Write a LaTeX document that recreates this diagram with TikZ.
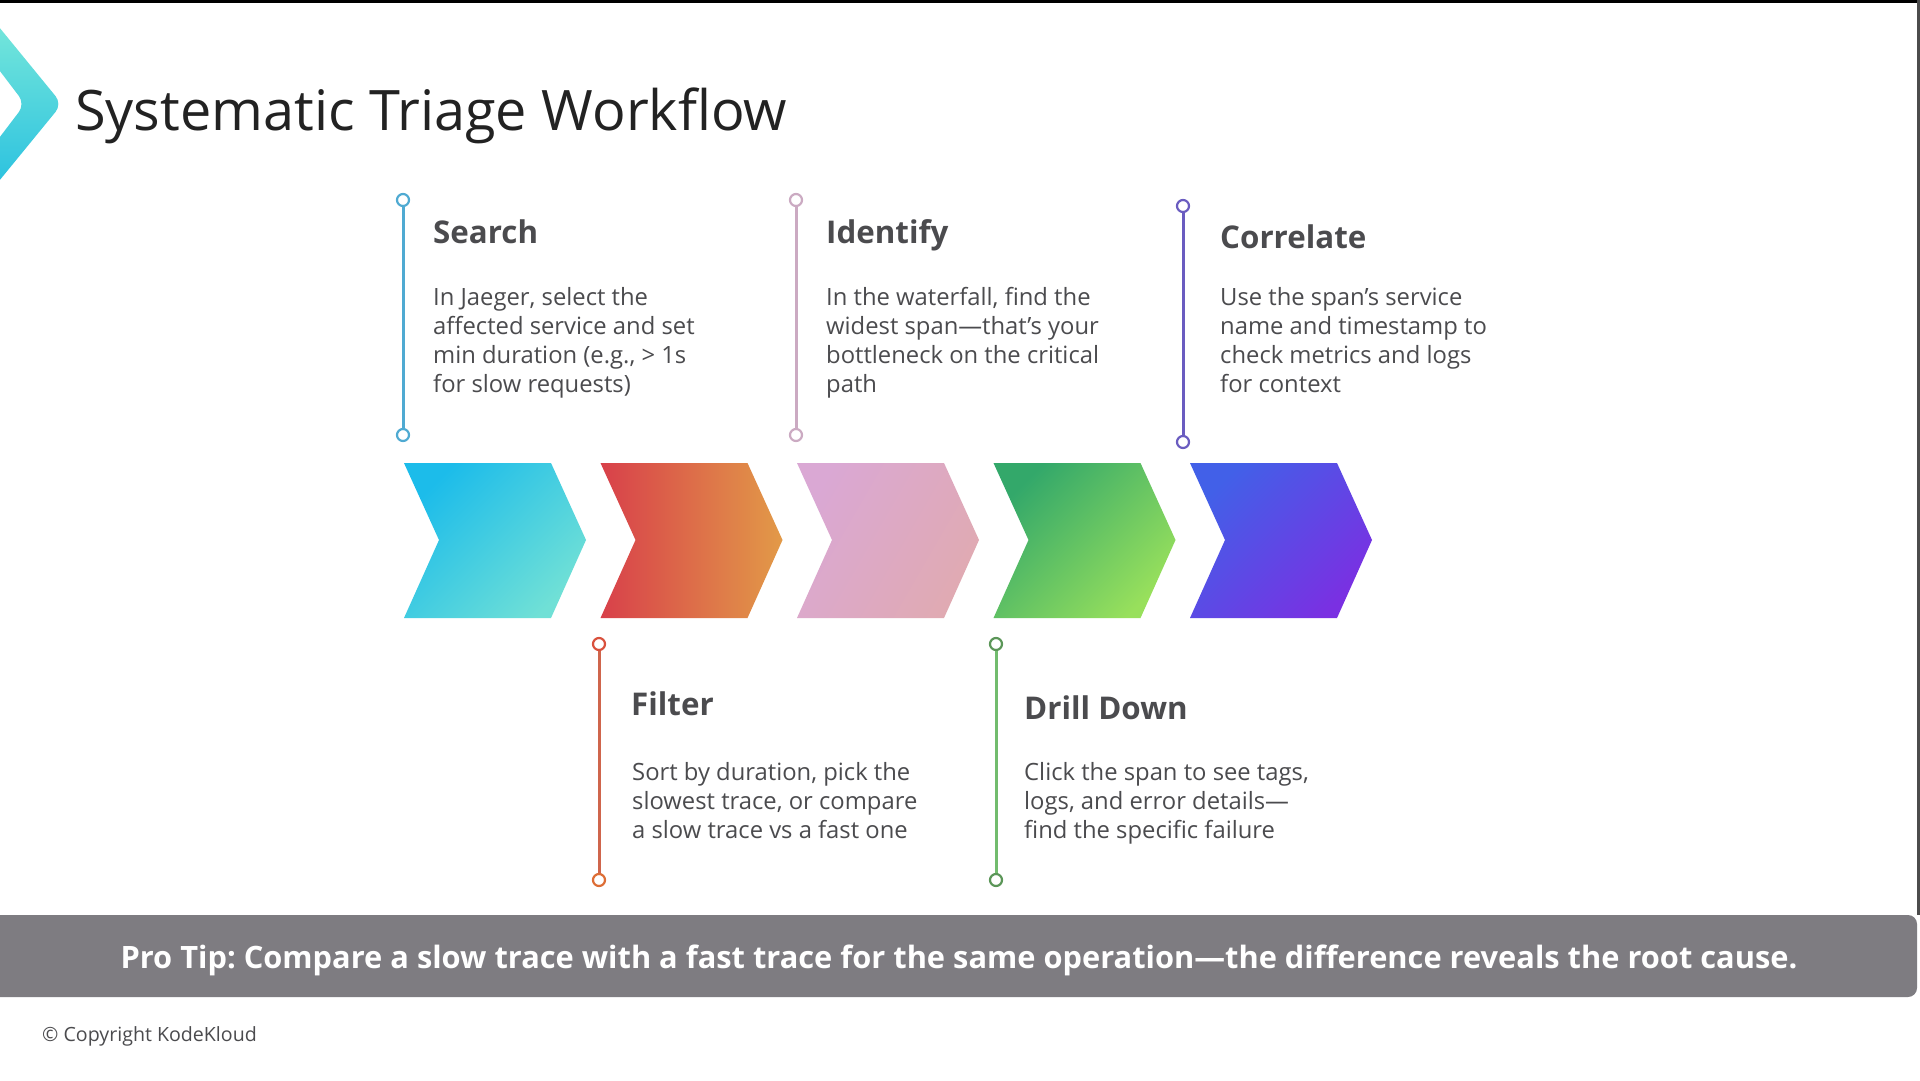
\documentclass[tikz,border=0pt]{standalone}
\usepackage{fontspec}
\setmainfont{Open Sans}
\usetikzlibrary{calc}
\frenchspacing
\definecolor{txt}{HTML}{4B4B4E}
\definecolor{ttl}{HTML}{222222}
\definecolor{barc}{HTML}{7E7C81}
\definecolor{lsearch}{HTML}{4FAAD2}
\definecolor{lident}{HTML}{CBAAC2}
\definecolor{lcorr}{HTML}{6A5CC0}
\definecolor{lfilt}{HTML}{CF654C}
\definecolor{ldrill}{HTML}{72BC6E}
\definecolor{logoa}{HTML}{78E8DA}
\definecolor{logob}{HTML}{28C0E0}
\tikzset{
  stitle/.style={anchor=base west,inner sep=0,text=txt,font=\fontsize{31.3}{36}\selectfont\bfseries},
  sbody/.style={anchor=north west,inner sep=0,text=txt,align=left,font=\fontsize{23.8}{29}\selectfont},
  dot/.style={circle,draw=#1,line width=2.2pt,fill=white,minimum size=12pt,inner sep=0},
  vline/.style={draw=#1,line width=3pt}
}
\newcommand\chevshape[5]{%
  \shade[top color=#2,bottom color=#3,shading angle=#4]
    (#1,463) -- ++(147,0) -- ++(35,77) -- ++(-35,78) -- ++(-147,0) -- ++(35,-78) -- cycle;
  \coordinate (#5) at (#1+90,540);
}
\begin{document}
\begin{tikzpicture}[x=1pt,y=-1pt]
\useasboundingbox (0,0) rectangle (1920,1080);
\fill[white] (0,0) rectangle (1920,1080);
% top and right border
\fill[black] (0,0) rectangle (1920,3);
\fill[black!70] (1917,0) rectangle (1920,915);
% logo
\shade[top color=logoa, bottom color=logob, rounded corners=10pt]
  (-10,16) -- (62,104) -- (-10,192) -- (-10,150) -- (25,104) -- (-10,58) -- cycle;
% title
\node[anchor=west,inner sep=0,text=ttl,font=\fontsize{55.8}{62}\selectfont] (title) at (75,116) {Systematic Triage Workflow};
% chevrons
\definecolor{c1a}{HTML}{1CBCEA}\definecolor{c1b}{HTML}{70E0D6}
\definecolor{c2a}{HTML}{D8404A}\definecolor{c2b}{HTML}{E29A48}
\definecolor{c3a}{HTML}{DAA8D4}\definecolor{c3b}{HTML}{E0AAB2}
\definecolor{c4a}{HTML}{33A86A}\definecolor{c4b}{HTML}{98E05C}
\definecolor{c5a}{HTML}{4260E8}\definecolor{c5b}{HTML}{7A30E2}
\chevshape{404}{c1a}{c1b}{45}{ch1}
\shade[left color=c2a,right color=c2b] (600.5,463) -- ++(147,0) -- ++(35,77) -- ++(-35,78) -- ++(-147,0) -- ++(35,-78) -- cycle;
\coordinate (ch2) at (690,540);
\chevshape{797}{c3a}{c3b}{60}{ch3}
\chevshape{993.5}{c4a}{c4b}{45}{ch4}
\chevshape{1190}{c5a}{c5b}{45}{ch5}
% connectors
\node[dot=lsearch] (s1t) at (403,200) {};
\node[dot=lsearch] (s1b) at (403,435) {};
\node[dot=lident] (s3t) at (796,200) {};
\node[dot=lident] (s3b) at (796,435) {};
\node[dot=lcorr] (s5t) at (1183,206) {};
\node[dot=lcorr] (s5b) at (1183,442) {};
\node[dot=lfilt!80!red] (s2t) at (599,644) {};
\node[dot=lfilt!70!orange] (s2b) at (599,880) {};
\node[dot=ldrill!80!black] (s4t) at (996,644) {};
\node[dot=ldrill!80!black] (s4b) at (996,880) {};
\draw[vline=lsearch] (s1t) -- (s1b);
\draw[vline=lident] (s3t) -- (s3b);
\draw[vline=lcorr] (s5t) -- (s5b);
\draw[vline=lfilt] (s2t) -- (s2b);
\draw[vline=ldrill] (s4t) -- (s4b);
% texts
\node[stitle] (t1) at (433,243) {Search};
\node[sbody] (b1) at (433,287) {In Jaeger, select the\\affected service and set\\min duration (e.g., > 1s\\for slow requests)};
\node[stitle] (t3) at (826,243) {Identify};
\node[sbody] (b3) at (826,287) {In the waterfall, find the\\widest span—that's your\\bottleneck on the critical\\path};
\node[stitle] (t5) at (1220,248) {Correlate};
\node[sbody] (b5) at (1220,287) {Use the span's service\\name and timestamp to\\check metrics and logs\\for context};
\node[stitle] (t2) at (631,715) {Filter};
\node[sbody] (b2) at (632,762) {Sort by duration, pick the\\slowest trace, or compare\\a slow trace vs a fast one};
\node[stitle] (t4) at (1024,719) {Drill Down};
\node[sbody] (b4) at (1024,762) {Click the span to see tags,\\logs, and error details—\\find the specific failure};
% bottom bar
\fill[barc, rounded corners=9pt] (-20,915) rectangle (1917,997);
\node[text=white,font=\fontsize{30.8}{36}\selectfont\bfseries,inner sep=0] (tip) at (959,960) {Pro Tip: Compare a slow trace with a fast trace for the same operation—the difference reveals the root cause.};
\node[anchor=west,inner sep=0,text=txt,font=\fontsize{19.6}{23}\selectfont] (copy) at (42,1036) {© Copyright KodeKloud};
\end{tikzpicture}
\end{document}
